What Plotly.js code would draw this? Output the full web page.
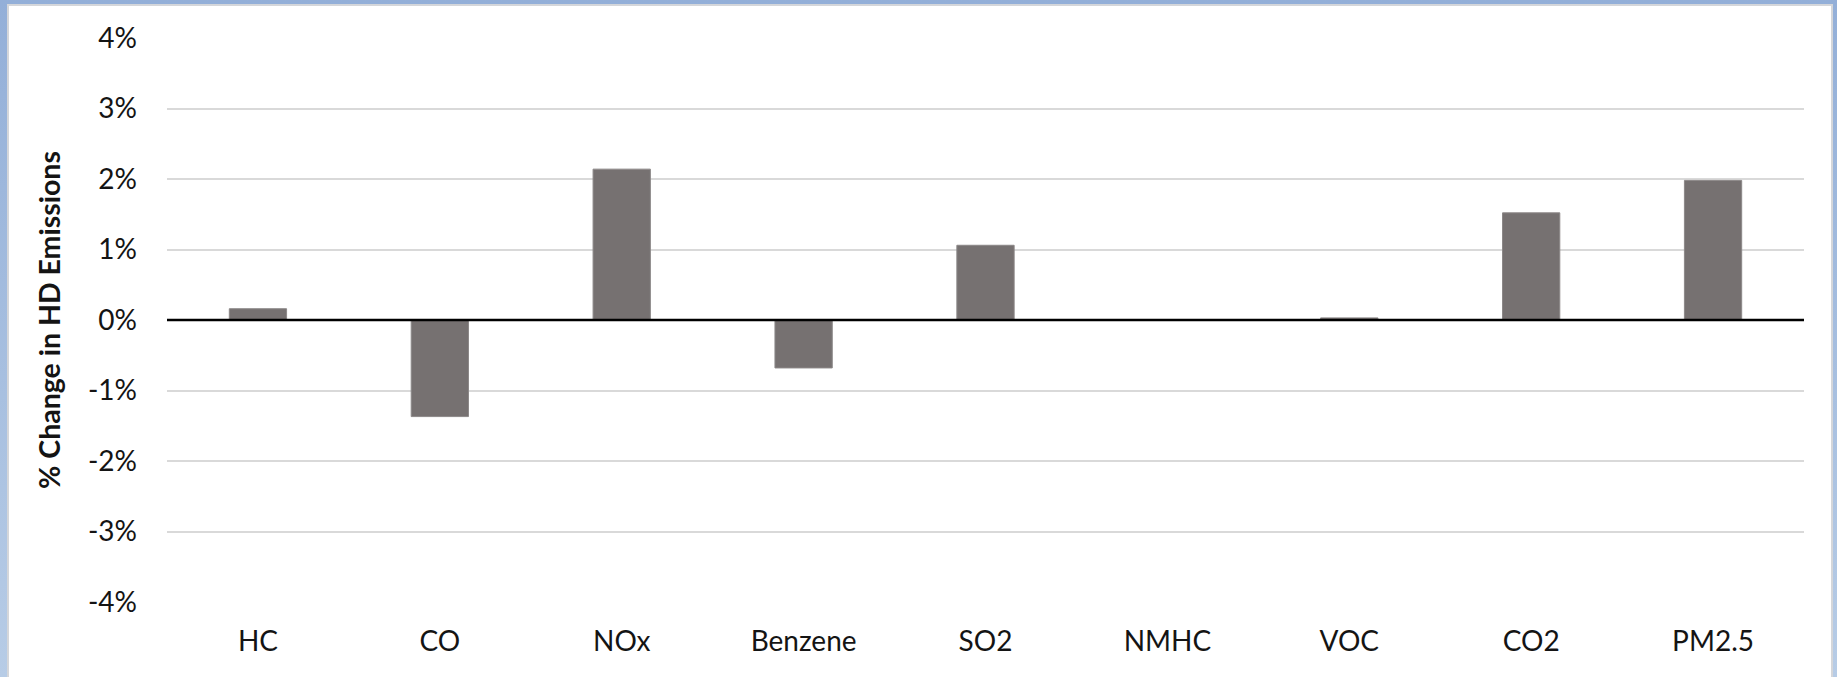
<!DOCTYPE html>
<html>
<head>
<meta charset="utf-8">
<script src="https://cdn.plot.ly/plotly-3.0.1.min.js"></script>
<style>
  html, body { margin: 0; padding: 0; }
  body { width: 1837px; height: 677px; overflow: hidden; position: relative;
         background: linear-gradient(to bottom, #93afd8, #b7cce6); }
  #frame { position: absolute; left: 7px; top: 4px; width: 1826px; height: 680px;
           background: #ffffff; border: 2px solid #d4d6da; box-sizing: border-box; }
  #chart { position: absolute; left: 0; top: 0; width: 1837px; height: 677px; }
</style>
</head>
<body>
<div id="frame"></div>
<div id="chart"></div>
<script>
const categories = ["HC", "CO", "NOx", "Benzene", "SO2", "NMHC", "VOC", "CO2", "PM2.5"];
const pctChange = [0.16, -1.37, 2.14, -0.68, 1.06, 0.0, 0.03, 1.52, 1.98];
const yTickVals = [-4, -3, -2, -1, 0, 1, 2, 3, 4];
const yTickText = ["-4%", "-3%", "-2%", "-1%", "0%", "1%", "2%", "3%", "4%"];
const yTitle = "% Change in HD Emissions";

const trace = {
  type: "bar",
  x: categories,
  y: pctChange,
  marker: { color: "#767171", line: { color: "#8c8888", width: 1 } },
  hoverinfo: "skip"
};

const layout = {
  width: 1837,
  height: 677,
  margin: { l: 167, r: 33, t: 38, b: 75, pad: 0 },
  paper_bgcolor: "rgba(0,0,0,0)",
  plot_bgcolor: "rgba(0,0,0,0)",
  showlegend: false,
  bargap: 0.685,
  font: { family: "Lato, 'Open Sans', sans-serif", size: 28, color: "#141414" },
  xaxis: {
    type: "category",
    showline: false,
    showgrid: false,
    zeroline: false,
    ticks: "",
    ticklabelstandoff: 20,
    tickfont: { family: "Lato, sans-serif", size: 28, color: "#141414" },
    fixedrange: true
  },
  yaxis: {
    range: [-4, 4],
    tickvals: yTickVals,
    ticktext: yTickText,
    showgrid: true,
    gridcolor: "#d9d9d9",
    gridwidth: 2,
    zeroline: false,
    showline: false,
    ticks: "",
    ticklabelstandoff: 29,
    tickfont: { family: "Lato, sans-serif", size: 28, color: "#141414" },
    title: {
      text: "<b>" + yTitle + "</b>",
      font: { family: "Lato, sans-serif", size: 28.5, color: "#141414" },
      standoff: 18
    },
    fixedrange: true
  },
  shapes: [{
    type: "line", xref: "paper", yref: "y",
    x0: 0, x1: 1, y0: 0, y1: 0,
    line: { color: "#000000", width: 2.5 },
    layer: "above"
  }]
};

Plotly.newPlot("chart", [trace], layout, { displayModeBar: false, staticPlot: true });
</script>
</body>
</html>
